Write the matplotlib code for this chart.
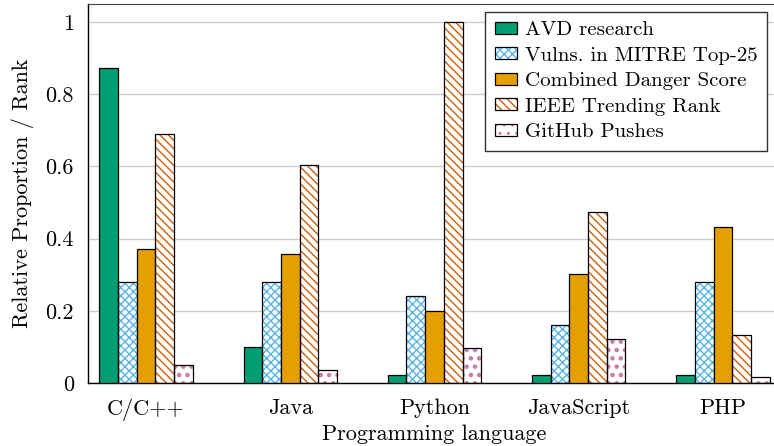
import numpy as np
import matplotlib as mpl
mpl.use('Agg')
from matplotlib import pyplot as plt
from matplotlib.patches import Patch

plt.rcParams['font.family'] = ['cmr10', 'DejaVu Serif']
plt.rcParams['mathtext.fontset'] = 'cm'
plt.rcParams['axes.formatter.use_mathtext'] = True
plt.rcParams['hatch.linewidth'] = 1.0

languages = ['C/C++', 'Java', 'Python', 'JavaScript', 'PHP']
series_names = ['AVD research', 'Vulns. in MITRE Top-25', 'Combined Danger Score',
                'IEEE Trending Rank', 'GitHub Pushes']
avd       = [0.874, 0.100, 0.022, 0.022, 0.022]
mitre     = [0.279, 0.279, 0.240, 0.160, 0.280]
danger    = [0.370, 0.357, 0.199, 0.303, 0.431]
ieee      = [0.690, 0.605, 1.000, 0.474, 0.132]
github    = [0.049, 0.035, 0.096, 0.122, 0.016]
series    = [avd, mitre, danger, ieee, github]

# fill colour, hatch colour, hatch pattern, hatch width
styles = [('#009E73', None, None, 1.0),
          ('white', '#56B4E9', 'xxxx', 1.0),
          ('#E69F00', None, None, 1.0),
          ('white', '#D55E00', '\\\\\\\\', 1.0),
          ('white', '#CC79A7', '..', 2.0)]

W, H = 774, 446
fig = plt.figure(figsize=(W/100, H/100), dpi=100)
x0, x1 = 88, 781
y0, y1 = 383, 4
ax = fig.add_axes([x0/W, 1-y0/H, (x1-x0)/W, (y0-y1)/H])

xx = np.arange(len(languages))
bw = 0.1296
handles = []
for i, (vals, (fc, hc, hatch, hlw)) in enumerate(zip(series, styles)):
    pos = xx + (i-2)*bw
    if hatch:
        with plt.rc_context({'hatch.linewidth': hlw}):
            ax.bar(pos, vals, bw, color='white', edgecolor=hc, hatch=hatch, lw=0, zorder=2)
            hp = Patch(facecolor='white', edgecolor=hc, hatch=hatch, lw=0)
        ax.bar(pos, vals, bw, color='none', edgecolor='black', lw=0.9, zorder=3)
        h = (hp, Patch(facecolor='none', edgecolor='black', lw=0.9))
    else:
        ax.bar(pos, vals, bw, color=fc, edgecolor='black', lw=0.9, zorder=3)
        h = Patch(facecolor=fc, edgecolor='black', lw=0.9)
    handles.append(h)

ax.set_xlim(-0.402, 4.402)
ax.set_ylim(0, 1.05)
ax.set_yticks([0, 0.2, 0.4, 0.6, 0.8, 1])
ax.set_yticklabels(['0', '0.2', '0.4', '0.6', '0.8', '1'])
ax.set_xticks(xx)
ax.set_xticklabels(languages)
ax.tick_params(length=0, labelsize=16)
ax.tick_params(axis='y', pad=10)
ax.tick_params(axis='x', pad=11)
ax.yaxis.grid(True, color='#cccccc', lw=1)
ax.set_axisbelow(True)
ax.spines['right'].set_visible(False)
ax.spines['top'].set_color('#444444')
for s in ['left', 'bottom']:
    ax.spines[s].set_linewidth(1.0)

ax.set_xlabel('Programming language', fontsize=16, labelpad=3)
ax.set_ylabel('Relative Proportion / Rank', fontsize=16, labelpad=8)

leg = ax.legend(handles, series_names, loc='upper right',
                bbox_to_anchor=(767/W, 1-12/H), bbox_transform=fig.transFigure,
                borderaxespad=0, fontsize=15, fancybox=False, framealpha=1,
                edgecolor='#333333', handlelength=1.05, handleheight=0.5,
                handletextpad=0.4, labelspacing=0.36, borderpad=0.45)
leg.get_frame().set_linewidth(1.0)

fig.savefig('out.png', dpi=100)
